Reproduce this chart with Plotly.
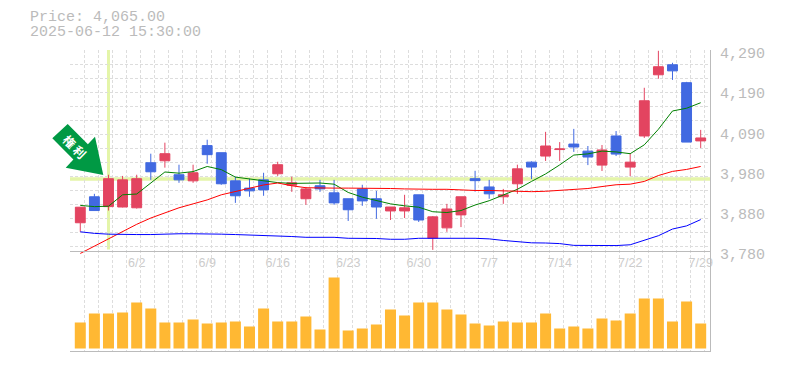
import plotly.graph_objects as go

dates = ["5/27","5/28","5/29","5/30","6/2","6/3","6/4","6/5","6/6","6/9","6/10","6/11","6/12","6/13","6/16",
         "6/17","6/18","6/19","6/20","6/23","6/24","6/25","6/26","6/27","6/30","7/1","7/2","7/3","7/4","7/7",
         "7/8","7/9","7/10","7/11","7/14","7/15","7/16","7/17","7/18","7/22","7/23","7/24","7/25","7/28","7/29"]
open_ = [3851,3917,3892,3891,3889,4003.5,4008.5,3973,3957.5,4047,4029,3957.5,3939,3960,3975.5,
         3946.5,3912,3945,3927,3912,3937,3912,3881,3881,3922,3812,3838,3871,3963,3942,
         3917,3950,4005,4020.5,4037,4051,4033,3997.5,4071.5,3992.5,4071.5,4227,4252.5,4207,4059]
high = [3890.5,3924.5,3973,3970,3973,4026.5,4054.5,3998.5,3998.5,4062,4029,3968,3963,3978,4006,
        3968,3942,3960,3960,3912,3947.5,3932,3891,3922,3922,3868,3899,3917,3983,3960,
        3937,3998.5,4007,4082,4056,4089.5,4046,4048.5,4084,4028,4194,4288,4257.5,4209,4087]
low = [3828,3882,3882,3890,3887,3960,3991,3952.5,3952.5,4001,3947.5,3901.5,3917,3919.5,3970,
       3929.5,3896.5,3929.5,3896.5,3855.5,3894,3861,3858,3863,3853,3782,3828,3840,3930,3912,
       3899,3924.5,3962,4008,4008,4031,3997.5,3982.5,4020.5,3969.5,4066.5,4217,4214,4056,4041]
close = [3890.5,3882,3963,3960,3963,3980.5,4026.5,3960,3978,4024,3950,3919.5,3932,3934.5,3998.5,
         3952.5,3937,3937,3901.5,3884,3906.5,3891,3891,3889,3858,3866,3886,3917,3958,3924.5,
         3922,3988,3992.5,4046,4038.5,4043.5,4018,4036,4025.5,4005,4161,4247.5,4237,4056,4066.5]
ma_short = [3895,3892,3893,3922,3924,3952,3980,3977,3981,3994,3986,3967,3962,3957,3953,
            3951,3952,3952,3949,3928,3916,3907,3899,3894,3890.5,3879,3877,3882,3896,3907,
            3922,3936,3956,3975,3998,4023,4026,4033,4031,4026.5,4049,4088.5,4135,4142,4156]
ma_mid = [3773,3792,3809,3828,3847,3863,3877,3889,3899,3909,3922,3930,3938,3947,3952,
          3945,3940,3939,3939,3939,3939,3939,3938,3937,3936,3936,3936,3934,3933,3933,
          3932,3931,3930,3931,3933,3935.5,3938,3943,3947.5,3949,3956,3971,3981.5,3986.5,3994]
ma_long = [3828,3824,3822,3821,3821,3821,3822.5,3823,3823,3823,3822,3821,3820,3819,3816.5,
           3816,3814,3814,3814,3811.5,3811.5,3811,3809,3809,3811.5,3812,3811.5,3811.5,3811.5,3810,
           3806,3803,3800,3799.5,3798,3793.5,3793,3792,3793,3795,3806,3818,3835,3843,3859]
volume = [26,35,35,36,46,40,26,26,29,25,26,27,22,40,27,27,32,19,71,18,20,24,39,
          33,46,46,39,34,25,23,27,26,26,35,20,22,20,30,28,35,50,50,27,47,25]
x_labels = ["6/2","6/9","6/16","6/23","6/30","7/7","7/14","7/22","7/29"]
price_tick_values = [4290,4188,4086,3984,3882,3780]
price_tick_labels = ["4,290","4,190","4,090","3,980","3,880","3,780"]
header = ["Price: 4,065.00","2025-06-12 15:30:00"]
rights_value = 3962
rights_date = "5/29"

W, H = 785, 370
L, R, T, B = 70, 75, 50, 19
PW, PH = W - L - R, H - T - B
def px(x): return (x - L) / PW
def py(y): return 1 - (y - T) / PH

RED, BLUE, ORANGE = "#E34460", "#4169E1", "#FFB833"
GRID, AXIS, TEXT = "#DDDDDD", "#BBBBBB", "#BBBBBB"
HL = "#E4F5A9"
xs = list(range(len(dates)))
idx = {d: i for i, d in enumerate(dates)}

fig = go.Figure()
fig.add_trace(go.Candlestick(
    x=xs, open=open_, high=high, low=low, close=close, xaxis="x", yaxis="y", whiskerwidth=0,
    increasing=dict(line=dict(color=RED, width=1), fillcolor=RED),
    decreasing=dict(line=dict(color=BLUE, width=1), fillcolor=BLUE),
    hoverinfo="skip", showlegend=False))
for vals, col in [(ma_short, "#008000"), (ma_mid, "#FF0000"), (ma_long, "#0000FF")]:
    fig.add_trace(go.Scatter(x=xs, y=vals, mode="lines", line=dict(color=col, width=1),
                             xaxis="x", yaxis="y", cliponaxis=False, hoverinfo="skip", showlegend=False))
fig.add_trace(go.Bar(x=xs, y=volume, width=0.78, marker=dict(color=ORANGE, line=dict(width=0)),
                     xaxis="x2", yaxis="y2", hoverinfo="skip", showlegend=False))

minor_x = dict(tick0=-0.73, dtick=1, showgrid=True, gridcolor=GRID, gridwidth=1, griddash="3px,2px", ticks="")
axis_pos = py(250.7)
price_bottom = py(254.7)
x_range = [-0.73, 44.66]
fig.update_layout(
    width=W, height=H, margin=dict(l=L, r=R, t=T, b=B, pad=0, autoexpand=False),
    paper_bgcolor="white", plot_bgcolor="white", boxgap=0, bargap=0.2, showlegend=False,
    xaxis=dict(domain=[0, 1], anchor="free", position=axis_pos, range=x_range, showgrid=False, zeroline=False,
               tickmode="array", tickvals=[idx[d] for d in x_labels], ticktext=x_labels, ticks="",
               tickfont=dict(family="Liberation Sans", size=12.5, color="#CCCCCC"),
               showline=True, linecolor=AXIS, linewidth=1, minor=minor_x,
               rangeslider=dict(visible=False)),
    xaxis2=dict(domain=[0, 1], anchor="y2", range=x_range, showgrid=False, zeroline=False,
                showticklabels=False, ticks="", tickmode="array", tickvals=[],
                showline=True, linecolor=AXIS, linewidth=1, minor=minor_x),
    yaxis=dict(domain=[price_bottom, 1], anchor="x", side="right", range=[3769.8, 4290], zeroline=False, showgrid=False,
               tickmode="array", tickvals=price_tick_values, ticktext=price_tick_labels, ticks="",
               tickfont=dict(family="Liberation Mono", size=15, color=TEXT), ticklabelshift=3,
               ticklabelstandoff=6, showline=True, linecolor=AXIS, linewidth=1,
               minor=dict(tick0=4290, dtick=35.7, showgrid=True, gridcolor=GRID, gridwidth=1,
                          griddash="3px,2px", ticks="")),
    yaxis2=dict(domain=[0, price_bottom], anchor="x2", side="right", range=[-2.5, 93.8], zeroline=False, showgrid=False,
                showticklabels=False, ticks="", showline=True, linecolor=AXIS, linewidth=1),
)

fig.add_shape(type="line", xref="x domain", yref="y", x0=0, x1=1, y0=rights_value, y1=rights_value,
              line=dict(color=HL, width=3.5), layer="below")
fig.add_shape(type="line", xref="x", yref="y", x0=idx[rights_date], x1=idx[rights_date], y0=3783, y1=4290,
              line=dict(color=HL, width=3), layer="below")

arrow = [(67.7,124),(87.9,144.2),(95,136.7),(103.3,175),(65.7,167.7),(73.4,159.4),(52.3,138.3)]
path = "M " + " L ".join(f"{px(a):.5f},{py(b):.5f}" for a, b in arrow) + " Z"
fig.add_shape(type="path", xref="paper", yref="paper", path=path, fillcolor="#009944",
              line=dict(width=0), layer="above")
fig.add_annotation(xref="paper", yref="paper", x=px(75.3), y=py(146), text="<b>権 利</b>", textangle=45,
                   showarrow=False, xanchor="center", yanchor="middle",
                   font=dict(family="Noto Sans CJK JP", size=12, color="white"))
for line, yy in zip(header, [18, 33]):
    fig.add_annotation(xref="paper", yref="paper", x=px(28), y=py(yy), text=line, showarrow=False,
                       xanchor="left", yanchor="middle",
                       font=dict(family="Liberation Mono", size=15, color=TEXT))

fig.write_html("out.html", post_script="document.body.style.margin='0';document.body.style.overflow='hidden';",
               config=dict(displayModeBar=False))
